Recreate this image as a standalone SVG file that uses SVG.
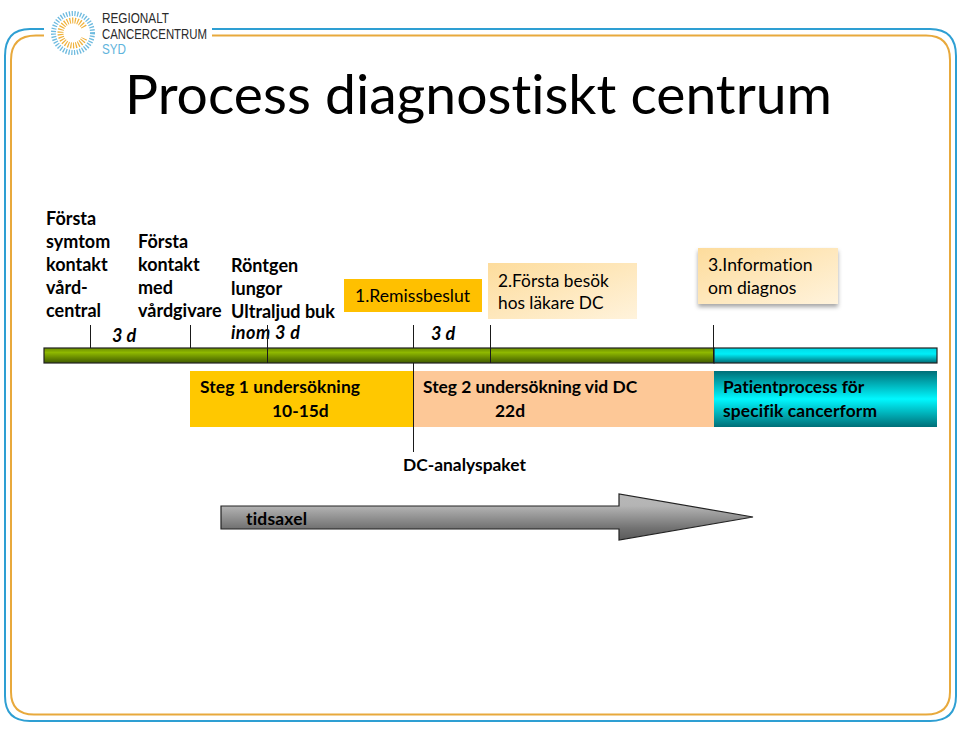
<svg xmlns="http://www.w3.org/2000/svg" width="960" height="733" viewBox="0 0 960 733">
<style>
text{font-family:"Lato","Liberation Sans",sans-serif;fill:#000;font-variant-ligatures:none}
.b{font-size:17.400px;font-weight:700}
.t{font-size:18px;font-weight:700}
.l{font-size:17.600px}
.lg{font-size:15px;font-family:"Liberation Sans",sans-serif;fill:#2a2a2a}
.i{font-size:18px;font-weight:700;font-style:italic}
.tick{stroke:#1a1a1a;stroke-width:1;fill:none}
</style>
<defs>
<linearGradient id="green" x1="0" y1="0" x2="0" y2="1"><stop offset="0" stop-color="#6a8c00"/><stop offset=".3" stop-color="#8fb800"/><stop offset="1" stop-color="#3f5a00"/></linearGradient>
<linearGradient id="cyan" x1="0" y1="0" x2="0" y2="1"><stop offset="0" stop-color="#00d8e4"/><stop offset=".4" stop-color="#00eef8"/><stop offset="1" stop-color="#006a74"/></linearGradient>
<linearGradient id="cyan2" x1="0" y1="0" x2="0" y2="1"><stop offset="0" stop-color="#006f78"/><stop offset=".5" stop-color="#00f8ff"/><stop offset="1" stop-color="#006f78"/></linearGradient>
<linearGradient id="cream" x1="0" y1="0" x2="1" y2="1"><stop offset="0" stop-color="#fddc9c"/><stop offset="1" stop-color="#fff3dc"/></linearGradient>
<linearGradient id="grey" x1="0" y1="0" x2="0" y2="1"><stop offset="0" stop-color="#b8b8b8"/><stop offset=".26" stop-color="#b4b4b4"/><stop offset=".76" stop-color="#707070"/><stop offset="1" stop-color="#5a5a5a"/></linearGradient>
<filter id="sh" x="-10%" y="-10%" width="120%" height="130%"><feDropShadow dx="0" dy="3" stdDeviation="2" flood-color="#000" flood-opacity=".35"/></filter>
</defs>
<g id="frame" fill="none" stroke-width="2">
<path stroke="#2e9fd3" d="M44 29H30Q5 29 5 56V696Q5 721 30 721H930Q956 721 956 696V56Q956 29 930 29H212"/>
<path stroke="#e8a93c" d="M44 35.500H36Q11 35.500 11 60V692Q11 714.500 34 714.500H926Q950 714.500 950 692V60Q950 35.500 926 35.500H212"/>
</g>
<g id="logo">
<circle cx="73" cy="33" r="12.500" fill="none" stroke="#f0b23c" stroke-width="6" stroke-dasharray="1.200 1.420"/>
<path d="M73 33L92 24V42Z" fill="#fff"/>
<circle cx="73" cy="33" r="19.500" fill="none" stroke="#6fbbdf" stroke-width="5" stroke-dasharray="1.300 1.510"/>
<text x="102" y="23" class="lg" textLength="67" lengthAdjust="spacingAndGlyphs">REGIONALT</text>
<text x="102" y="38.500" class="lg" textLength="105" lengthAdjust="spacingAndGlyphs">CANCERCENTRUM</text>
<text x="102" y="54" class="lg" style="fill:#5fb4dc" textLength="24" lengthAdjust="spacingAndGlyphs">SYD</text>
</g>
<text id="title" x="125" y="114" font-size="54.500" textLength="707" lengthAdjust="spacingAndGlyphs">Process diagnostiskt centrum</text>
<g id="n-symtom"><text class="t" x="46" y="225">Första</text><text class="t" x="46" y="248">symtom</text><text class="t" x="46" y="271">kontakt</text><text class="t" x="46" y="294">vård-</text><text class="t" x="46" y="317">central</text></g>
<g id="n-kontakt"><text class="t" x="138" y="248">Första</text><text class="t" x="138" y="271">kontakt</text><text class="t" x="138" y="294">med</text><text class="t" x="138" y="317">vårdgivare</text></g>
<g id="n-rontgen"><text class="t" x="231" y="272">Röntgen</text><text class="t" x="231" y="295">lungor</text><text class="t" x="231" y="318">Ultraljud buk</text><text class="i" x="231" y="339" textLength="69">inom 3 d</text></g>
<text id="d1" class="i" x="112" y="342">3 d</text>
<text id="d2" class="i" x="431" y="340">3 d</text>
<g id="n-remiss"><rect x="344" y="279" width="138" height="33" fill="#ffc000"/><text x="355" y="302" class="l">1.Remissbeslut</text></g>
<g id="n-besok"><rect x="488" y="263" width="149" height="56" fill="url(#cream)"/><text class="l" x="498" y="287" style="font-size:17.300px">2.Första besök</text><text class="l" x="498" y="309" style="font-size:17.300px">hos läkare DC</text></g>
<g id="n-info"><rect x="698" y="248" width="140" height="56" fill="url(#cream)" filter="url(#sh)"/><text class="l" x="708" y="271">3.Information</text><text class="l" x="708" y="294">om diagnos</text></g>
<g id="timeline" stroke="#222" stroke-width="1.200">
<rect x="44" y="348" width="670" height="15" fill="url(#green)"/>
<rect x="714" y="348" width="223" height="15" fill="url(#cyan)"/>
</g>
<g id="n-steg1"><rect x="190" y="371" width="223" height="56" fill="#ffc800"/><text class="b" x="200" y="393" textLength="160">Steg 1 undersökning</text><text class="b" x="272" y="417">10-15d</text></g>
<g id="n-steg2"><rect x="413" y="371" width="301" height="56" fill="#fdc897"/><text class="b" x="423" y="393">Steg 2 undersökning vid DC</text><text class="b" x="495" y="417">22d</text></g>
<g id="n-patient"><rect x="714" y="371" width="223" height="56" fill="url(#cyan2)"/><text class="b" x="723" y="393">Patientprocess för</text><text class="b" x="723" y="417" textLength="154">specifik cancerform</text></g>
<g id="connectors">
<path class="tick" d="M90.500 325V348M190.500 325V348M267.500 325V363M413.500 325V348M490.500 325V363M713.500 325V363M413.500 363V452"/>
</g>
<text id="dc" class="b" x="403" y="471">DC-analyspaket</text>
<g id="n-tidsaxel"><path d="M221 506H619V494L753 517L619 540V529H221Z" fill="url(#grey)" stroke="#222" stroke-width="1.200"/><text class="b" x="246" y="525" textLength="61">tidsaxel</text></g>
</svg>
